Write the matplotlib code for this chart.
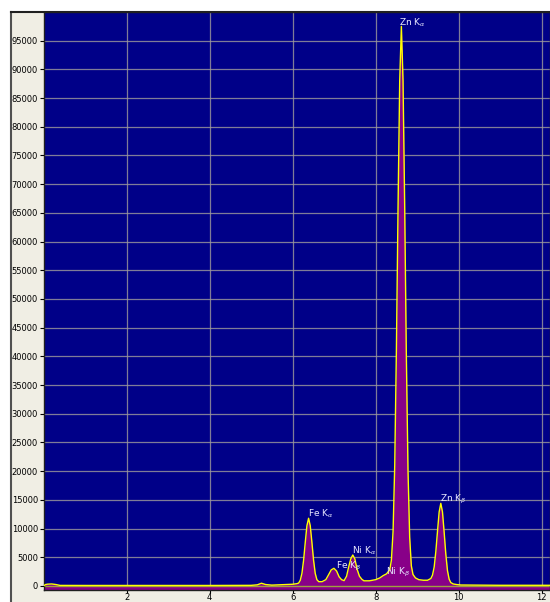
import matplotlib
matplotlib.use("Agg")
import matplotlib.pyplot as plt
from matplotlib.patches import Rectangle

# Spectrum (energy in keV, counts)
energy = [0.00, 0.05, 0.10, 0.20, 0.30, 0.40, 1.00, 2.00, 3.00, 4.00, 5.00, 5.15, 5.25, 5.35, 5.50,
          6.00, 6.10, 6.145, 6.185, 6.225, 6.265, 6.305, 6.345, 6.385, 6.425, 6.465, 6.505, 6.545,
          6.585, 6.63, 6.71,
          6.80, 6.87, 6.93, 6.995, 7.06, 7.12, 7.18, 7.24, 7.30, 7.35, 7.40, 7.45, 7.50, 7.55,
          7.61, 7.67, 7.72, 7.85, 8.00, 8.10, 8.18, 8.26, 8.34, 8.38, 8.42, 8.46, 8.50, 8.54,
          8.58, 8.62, 8.66, 8.70, 8.74, 8.78, 8.82, 8.86, 8.90, 8.96, 9.04, 9.15, 9.25, 9.33,
          9.37, 9.41, 9.45, 9.49, 9.53, 9.57, 9.61, 9.65, 9.69, 9.73, 9.77, 9.81, 9.87, 9.95,
          10.05, 11.0, 12.2]
counts = [0, 250, 320, 350, 250, 100, 90, 90, 90, 90, 110, 200, 480, 250, 150,
          300, 400, 500, 1000, 2200, 4500, 7600, 10500, 11800, 10500, 7600, 4500, 2200,
          1100, 750, 750,
          1100, 2000, 2800, 3080, 2600, 1600, 1100, 930, 1700, 3300, 4700, 5400, 4700, 3000,
          1700, 1150, 900, 900, 1100, 1400, 1800, 2100, 2800, 4500, 9500, 21000, 41000, 66000,
          88000, 97500, 88000, 66000, 40000, 20000, 8500, 3500, 2000, 1400, 1100, 1000, 1000, 1300,
          1900, 3300, 6000, 9500, 12900, 14400, 12900, 9400, 5600, 2700, 1200, 600, 350, 250,
          170, 120, 120]

# Peak labels
peak_labels = [r"Zn K$_\alpha$", r"Fe K$_\alpha$", r"Fe K$_\beta$", r"Ni K$_\alpha$", r"Ni K$_\beta$", r"Zn K$_\beta$"]
label_x = [8.57, 6.36, 7.04, 7.42, 8.25, 9.54]
label_y = [97000, 11500, 2300, 5000, 1300, 13900]

y_ticks = list(range(0, 100000, 5000))
x_ticks = [2, 4, 6, 8, 10, 12]

fig = plt.figure(figsize=(5.5, 6.02), dpi=100)
fig.patch.set_facecolor("white")
# beige panel behind everything
fig.add_artist(Rectangle((11 / 550, 0), 1 - 11 / 550, 590 / 602, transform=fig.transFigure,
                         facecolor="#f0eee4", edgecolor="none", zorder=-10))
fig.add_artist(plt.Line2D([11 / 550, 11 / 550], [0, 590 / 602], transform=fig.transFigure,
                          color="#505050", lw=1.5, zorder=-9))
fig.add_artist(plt.Line2D([11 / 550, 1], [590 / 602, 590 / 602], transform=fig.transFigure,
                          color="#202020", lw=1.5, zorder=-9))

ax = fig.add_axes([43.5 / 550, 12 / 602, 1 - 43.5 / 550, 578 / 602])
ax.set_zorder(1)
ax.set_facecolor("#000088")
ax.set_xlim(0, 12.2)
ax.set_ylim(-700, 100000)

ax.set_yticks(y_ticks)
ax.set_yticklabels([str(v) for v in y_ticks])
ax.set_xticks(x_ticks)
ax.set_xticklabels([str(v) for v in x_ticks])
ax.tick_params(axis="y", labelsize=6, colors="black", length=3, width=0.8, pad=1)
ax.tick_params(axis="x", labelsize=6, colors="black", length=2, width=0.8, pad=0.3)
ax.grid(True, color="#a09c9c", lw=0.9, alpha=0.8)
ax.set_axisbelow(True)
for s in ax.spines.values():
    s.set_color("#202020")
    s.set_linewidth(1)

ax.fill_between(energy, counts, -700, color="#880088", lw=0, zorder=2)
ax.plot(energy, counts, color="#ffff00", lw=1.0, zorder=3)
ax.axhline(0, color="#a0a040", lw=1.0, zorder=2.5)

for t, x, y in zip(peak_labels, label_x, label_y):
    ax.text(x, y, t, color="#e8e8ff", fontsize=6.5, ha="left", va="bottom", zorder=4)

fig.savefig("out.png", dpi=100)
